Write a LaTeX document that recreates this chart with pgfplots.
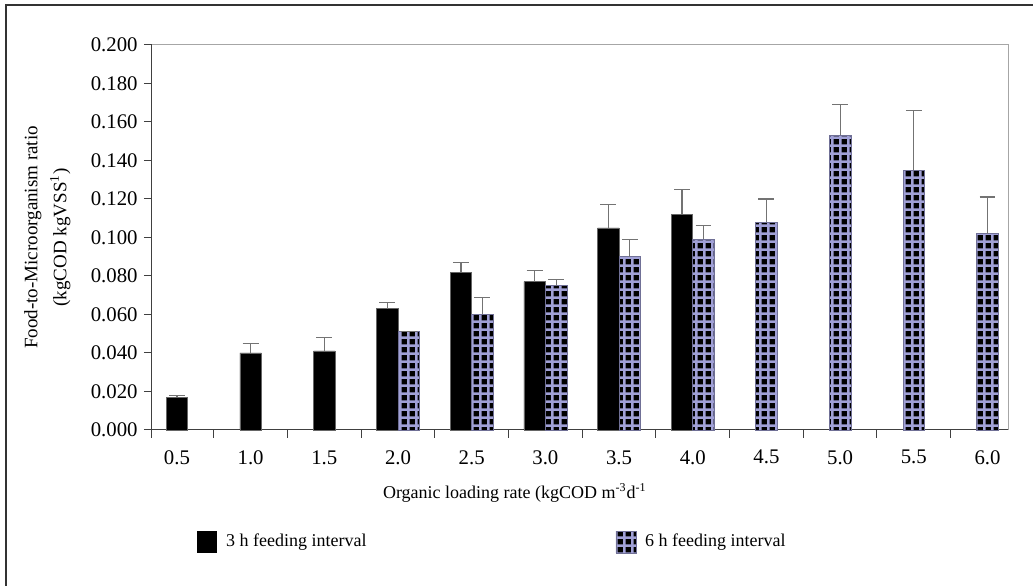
\documentclass[border=0pt]{standalone}
\usepackage{fontspec}
\setmainfont{Liberation Serif}
\usepackage{pgfplots}
\pgfplotsset{compat=1.18}
\usepackage{pgfplotstable}
\usetikzlibrary{patterns.meta}
\definecolor{lav}{RGB}{160,160,214}
\tikzdeclarepattern{
  name=mygrid,
  type=uncolored,
  bottom left={(0pt,0pt)}, top right={(4pt,4pt)},
  tile size={(4pt,4pt)},
  code={
    \fill (0pt,0pt) rectangle (4pt,1.3pt);
    \fill (0pt,0pt) rectangle (1.3pt,4pt);
  }
}
\pgfplotstableread{
x y e
0 0.017 0.001
1 0.040 0.005
2 0.041 0.007
}\threeA
\pgfplotstableread{
x y e
3 0.063 0.003
4 0.082 0.005
5 0.077 0.006
6 0.105 0.012
7 0.112 0.013
}\threeB
\pgfplotstableread{
x y e
3 0.051 0.000
4 0.060 0.009
5 0.075 0.003
6 0.090 0.009
7 0.099 0.007
}\sixA
\pgfplotstableread{
x y e
8 0.108 0.012
9 0.153 0.016
10 0.135 0.031
11 0.102 0.019
}\sixB
\begin{document}
\fontsize{9}{11}\selectfont
\begin{tikzpicture}
\begin{axis}[
  scale only axis,
  width=428.5pt, height=192.5pt,
  xmin=-0.339, xmax=11.289,
  ymin=0, ymax=0.2,
  axis x line*=bottom, axis y line*=left,
  axis line style={black!75, line width=0.5pt},
  tick style={black!75, line width=0.5pt},
  tick align=outside,
  xtick={-0.339,0.5,1.5,2.5,3.5,4.5,5.5,6.5,7.5,8.5,9.5,10.5},
  xticklabels={},
  major tick length=4pt,
  extra x ticks={0,1,2,3,4,5,6,7,8,9,10,11},
  extra x tick labels={0.5,1.0,1.5,2.0,2.5,3.0,3.5,4.0,4.5,5.0,5.5,6.0},
  extra x tick style={tick style={draw=none}, xticklabel style={yshift=-3pt}},
  ytick={0,0.02,...,0.2},
  yticklabel={\pgfmathprintnumber[fixed,fixed zerofill,precision=3]{\tick}},
  yticklabel style={xshift=0pt},
  /pgf/number format/assume math mode=true,
  ticklabel style={font=\fontsize{10.4}{12}\selectfont},
  xlabel={Organic loading rate (kgCOD m\textsuperscript{-3}d\textsuperscript{-1}},
  xlabel style={at={(axis description cs:0.4235,-0.164)}, anchor=center, font=\fontsize{9}{11}\selectfont},
  ylabel={Food-to-Microorganism ratio\\(kgCOD kgVSS\textsuperscript{1})},
  ylabel style={at={(axis description cs:-0.122,0.5)}, anchor=center, rotate=0, align=center,
    font=\fontsize{9.5}{14.5}\selectfont},
  ybar, bar width=10.75pt,
  clip=false,
  legend columns=2,
  legend style={draw=none, fill=none, at={(axis description cs:0.045,-0.291)}, anchor=west,
    font=\fontsize{9}{11}\selectfont,
    /tikz/every even column/.append style={column sep=122.5pt}},
  legend cell align=left,
  legend image code/.code={\path[#1, draw=none] (0pt,-5.5pt) rectangle (10pt,5.5pt); \path (12.5pt,0pt);},
  error bars/y dir=plus, error bars/y explicit,
  error bars/error bar style={black!55, line width=0.6pt},
  error bars/error mark options={black!55, line width=0.6pt, mark size=4pt, rotate=90},
]
\addplot[fill=black, draw=black!60, line width=0.3pt, bar shift=-5.375pt]
  table[x=x, y=y, y error=e] {\threeB};
\addlegendentry{3 h feeding interval}
\addplot[fill=black, draw=lav!70!black, line width=0.3pt, bar shift=5.375pt,
  postaction={pattern={mygrid}, pattern color=lav}]
  table[x=x, y=y, y error=e] {\sixA};
\addlegendentry{6 h feeding interval}
\addplot[fill=black, draw=black!60, line width=0.3pt, bar shift=0pt, forget plot]
  table[x=x, y=y, y error=e] {\threeA};
\addplot[fill=black, draw=lav!70!black, line width=0.3pt, bar shift=0pt, forget plot,
  postaction={pattern={mygrid}, pattern color=lav}]
  table[x=x, y=y, y error=e] {\sixB};
\draw[black!35, line width=0.5pt] (rel axis cs:0,1) -- (rel axis cs:1,1) -- (rel axis cs:1,0);
\draw[black!80, line width=0.7pt] (rel axis cs:-0.1704,-0.405) -- (rel axis cs:-0.1704,1.1039) -- (rel axis cs:1.0286,1.1039);
\path (rel axis cs:-0.17736,1.11688) rectangle (rel axis cs:1.02859,-0.40519);
\end{axis}
\end{tikzpicture}
\end{document}
